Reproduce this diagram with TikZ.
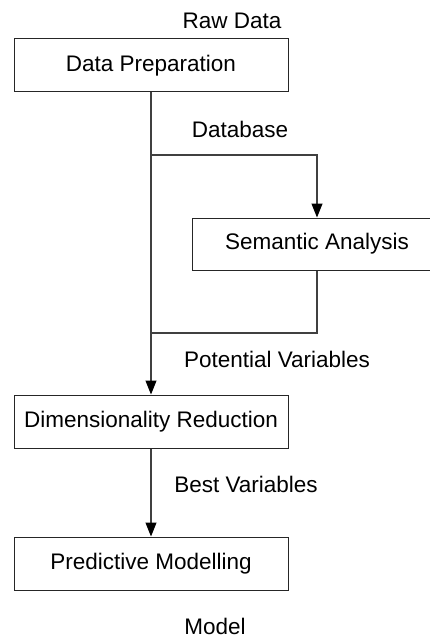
\documentclass[tikz,border=0pt]{standalone}
\usepackage{fontspec}
\setmainfont{Liberation Sans}
\usetikzlibrary{arrows.meta, positioning}

\tikzset{
    stepbox/.style={draw=black!85, line width=1pt, minimum width=274pt, minimum height=53pt,
        inner sep=0pt, font=\fontsize{22.5}{27}\selectfont},
    flowlabel/.style={inner sep=0pt, font=\fontsize{22.5}{27}\selectfont},
    flow/.style={draw=black!75, line width=1.1pt},
    flowarrow/.style={flow, -{Triangle[length=14pt,width=11pt,color=black]}}
}

\begin{document}
\begin{tikzpicture}[x=1pt, y=-1pt]
    \useasboundingbox (0,0) rectangle (430,639);
    \clip (0,0) rectangle (430,639);
    % process steps
    \node[stepbox] (prep) at (151,65.5) {Data Preparation};
    \node[stepbox, minimum width=250pt, minimum height=52pt] (sem) at (317,244) {Semantic Analysis};
    \node[stepbox, below=302pt of prep] (dimred) {Dimensionality Reduction};
    \node[stepbox, below=88pt of dimred] (pred) {Predictive Modelling};
    % data labels
    \node[flowlabel] (raw) at (232,21) {Raw Data};
    \node[flowlabel] (db) at (240,129) {Database};
    \node[flowlabel] (potvar) at (277,359) {Potential Variables};
    \node[flowlabel] (bestvar) at (246,484) {Best Variables};
    \node[flowlabel] (model) at (215,626) {Model};
    % branch points
    \coordinate (split) at (151,155);
    \coordinate (merge) at (151,333);
    % connectors
    \draw[flowarrow] (prep.south) -- (dimred.north);
    \draw[flowarrow] (split) -| (sem.north);
    \draw[flow] (sem.south) |- (merge);
    \draw[flowarrow] (dimred.south) -- (pred.north);
\end{tikzpicture}
\end{document}
